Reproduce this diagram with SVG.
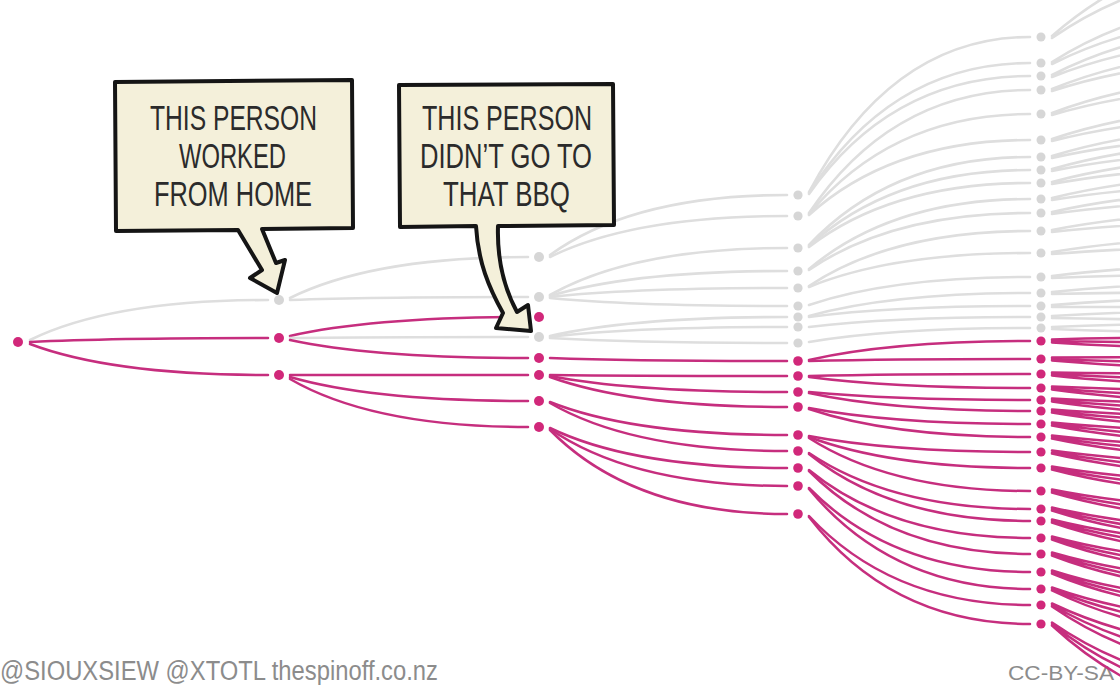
<svg xmlns="http://www.w3.org/2000/svg" width="1120" height="685" viewBox="0 0 1120 685">
<style>
.g{fill:none;stroke:#dedede;stroke-width:2.6;stroke-linecap:round}
.p{fill:none;stroke:#c62e7e;stroke-width:2.5;stroke-linecap:round}
.ng{fill:#d6d6d6}
.np{fill:#d1287a}
.box{fill:#f4f0da;stroke:#151515;stroke-width:4;stroke-linejoin:round}
.bt{font-family:"Liberation Sans",Arial,sans-serif;font-size:35px;fill:#2b2b2b}
.cr{font-family:"Liberation Sans",Arial,sans-serif;fill:#8c8c8c}
</style>
<rect width="1120" height="685" fill="#ffffff"/>
<text class="cr" x="0" y="680" font-size="27" textLength="438" lengthAdjust="spacingAndGlyphs">@SIOUXSIEW @XTOTL thespinoff.co.nz</text>
<text class="cr" x="1008" y="680" font-size="21" fill="#a0a0a0" textLength="106" lengthAdjust="spacingAndGlyphs">CC-BY-SA</text>
<g id="connectors">
<path class="g" d="M30 340Q112 300 268 300"/>
<path class="p" d="M30 342Q112 338 268 338"/>
<path class="p" d="M30 344Q112 375 268 375"/>
<path class="g" d="M290 298Q373 257 528 257"/>
<path class="g" d="M290 300Q373 297 528 297"/>
<path class="p" d="M290 336Q373 317 528 317"/>
<path class="g" d="M290 338Q373 337 528 337"/>
<path class="p" d="M290 340Q373 358 528 358"/>
<path class="p" d="M290 375L528 375"/>
<path class="p" d="M290 377Q373 401 528 401"/>
<path class="p" d="M290 379Q373 427 528 427"/>
<path class="g" d="M550 255Q633 195 787 195"/>
<path class="g" d="M550 257Q633 216 787 216"/>
<path class="g" d="M550 295Q633 248 787 248"/>
<path class="g" d="M550 296Q633 271 787 271"/>
<path class="g" d="M550 297Q633 288 787 288"/>
<path class="g" d="M550 298Q633 306 787 306"/>
<path class="g" d="M550 336Q633 317 787 317"/>
<path class="g" d="M550 337Q633 327 787 327"/>
<path class="g" d="M550 338Q633 343 787 343"/>
<path class="p" d="M550 358Q633 361 787 361"/>
<path class="p" d="M550 375Q633 376 787 376"/>
<path class="p" d="M550 376Q633 392 787 392"/>
<path class="p" d="M550 377Q633 407 787 407"/>
<path class="p" d="M550 402Q633 435 787 435"/>
<path class="p" d="M550 403Q633 451 787 451"/>
<path class="p" d="M550 428Q633 468 787 468"/>
<path class="p" d="M550 429Q633 486 787 486"/>
<path class="p" d="M550 430Q633 514 787 514"/>
<path class="g" d="M809 192Q892 37 1030 37"/>
<path class="g" d="M809 193Q892 63 1030 63"/>
<path class="g" d="M809 194Q892 76 1030 76"/>
<path class="g" d="M809 213Q892 90 1030 90"/>
<path class="g" d="M809 214Q892 114 1030 114"/>
<path class="g" d="M809 215Q892 140 1030 140"/>
<path class="g" d="M809 245Q892 157 1030 157"/>
<path class="g" d="M809 246Q892 170 1030 170"/>
<path class="g" d="M809 247Q892 183 1030 183"/>
<path class="g" d="M809 269Q892 199 1030 199"/>
<path class="g" d="M809 270Q892 213 1030 213"/>
<path class="g" d="M809 286Q892 231 1030 231"/>
<path class="g" d="M809 287Q892 253 1030 253"/>
<path class="g" d="M809 305Q892 277 1030 277"/>
<path class="g" d="M809 316Q892 293 1030 293"/>
<path class="g" d="M809 317Q892 306 1030 306"/>
<path class="g" d="M809 327Q892 317 1030 317"/>
<path class="g" d="M809 342Q892 328 1030 328"/>
<path class="p" d="M809 360Q892 341 1030 341"/>
<path class="p" d="M809 361Q892 359 1030 359"/>
<path class="p" d="M809 376Q892 374 1030 374"/>
<path class="p" d="M809 377Q892 388 1030 388"/>
<path class="p" d="M809 392Q892 400 1030 400"/>
<path class="p" d="M809 393Q892 411 1030 411"/>
<path class="p" d="M809 408Q892 424 1030 424"/>
<path class="p" d="M809 409Q892 437 1030 437"/>
<path class="p" d="M809 436Q892 452 1030 452"/>
<path class="p" d="M809 437Q892 468 1030 468"/>
<path class="p" d="M809 438Q892 491 1030 491"/>
<path class="p" d="M809 453Q892 509 1030 509"/>
<path class="p" d="M809 454Q892 521 1030 521"/>
<path class="p" d="M809 470Q892 538 1030 538"/>
<path class="p" d="M809 471Q892 554 1030 554"/>
<path class="p" d="M809 488Q892 572 1030 572"/>
<path class="p" d="M809 489Q892 589 1030 589"/>
<path class="p" d="M809 516Q892 605 1030 605"/>
<path class="p" d="M809 517Q892 624 1030 624"/>
<path class="g" d="M1052 36Q1150 -50 1279 -50M1052 38Q1150 -30 1279 -30M1052 62Q1150 0 1279 0M1052 64Q1150 15 1279 15M1052 75Q1150 25 1279 25M1052 77Q1150 38 1279 38M1052 89Q1150 49 1279 49M1052 91Q1150 59 1279 59M1052 113Q1150 76 1279 76M1052 115Q1150 86 1279 86M1052 139Q1150 106 1279 106M1052 141Q1150 116 1279 116M1052 156Q1150 126 1279 126M1052 158Q1150 136 1279 136M1052 169Q1150 141 1279 141M1052 171Q1150 151 1279 151M1052 182Q1150 156 1279 156M1052 184Q1150 166 1279 166M1052 198Q1150 174 1279 174M1052 200Q1150 184 1279 184M1052 212Q1150 190 1279 190M1052 214Q1150 200 1279 200M1052 230Q1150 211 1279 211M1052 232Q1150 221 1279 221M1052 252Q1150 236 1279 236M1052 254Q1150 246 1279 246M1052 276Q1150 264 1279 264M1052 278Q1150 274 1279 274M1052 292Q1150 282 1279 282M1052 294Q1150 292 1279 292M1052 305Q1150 297 1279 297M1052 307Q1150 307 1279 307M1052 316Q1150 310 1279 310M1052 318Q1150 320 1279 320M1052 327Q1150 323 1279 323M1052 329Q1150 333 1279 333"/>
<path class="p" d="M1052 339.5Q1150 337 1279 337M1052 341Q1150 343 1279 343M1052 342.5Q1150 349 1279 349M1052 357.5Q1150 357 1279 357M1052 359Q1150 363 1279 363M1052 360.5Q1150 369 1279 369M1052 372.5Q1150 374 1279 374M1052 374Q1150 380 1279 380M1052 375.5Q1150 386 1279 386M1052 386.5Q1150 391 1279 391M1052 388Q1150 397 1279 397M1052 389.5Q1150 403 1279 403M1052 398.5Q1150 404 1279 404M1052 400Q1150 410 1279 410M1052 401.5Q1150 416 1279 416M1052 409.5Q1150 417 1279 417M1052 411Q1150 423 1279 423M1052 412.5Q1150 429 1279 429M1052 422.5Q1150 432 1279 432M1052 424Q1150 438 1279 438M1052 425.5Q1150 444 1279 444M1052 435.5Q1150 447 1279 447M1052 437Q1150 453 1279 453M1052 438.5Q1150 459 1279 459M1052 450.5Q1150 464 1279 464M1052 452Q1150 470 1279 470M1052 453.5Q1150 476 1279 476M1052 466.5Q1150 483 1279 483M1052 468Q1150 489 1279 489M1052 469.5Q1150 495 1279 495M1052 489.5Q1150 509 1279 509M1052 491Q1150 515 1279 515M1052 492.5Q1150 521 1279 521M1052 507.5Q1150 530 1279 530M1052 509Q1150 536 1279 536M1052 510.5Q1150 542 1279 542M1052 519.5Q1150 544 1279 544M1052 521Q1150 550 1279 550M1052 522.5Q1150 556 1279 556M1052 536.5Q1150 563 1279 563M1052 538Q1150 569 1279 569M1052 539.5Q1150 575 1279 575M1052 552.5Q1150 581 1279 581M1052 554Q1150 587 1279 587M1052 555.5Q1150 593 1279 593M1052 570.5Q1150 602 1279 602M1052 572Q1150 608 1279 608M1052 573.5Q1150 614 1279 614M1052 587.5Q1150 622 1279 622M1052 589Q1150 630 1279 630M1052 590.5Q1150 638 1279 638M1052 603.5Q1150 650 1279 650M1052 605Q1150 662 1279 662M1052 606.5Q1150 674 1279 674M1052 622.5Q1150 690 1279 690M1052 624Q1150 702 1279 702M1052 625.5Q1150 716 1279 716"/>
</g>
<g id="n0-0"><circle class="np" cx="18" cy="342" r="5"/></g>
<g id="n1-0"><circle class="ng" cx="279" cy="300" r="5"/></g>
<g id="n1-1"><circle class="np" cx="279" cy="338" r="5"/></g>
<g id="n1-2"><circle class="np" cx="279" cy="375" r="5"/></g>
<g id="n2-0"><circle class="ng" cx="539" cy="257" r="5"/></g>
<g id="n2-1"><circle class="ng" cx="539" cy="297" r="5"/></g>
<g id="n2-2"><circle class="np" cx="539" cy="317" r="5"/></g>
<g id="n2-3"><circle class="ng" cx="539" cy="337" r="5"/></g>
<g id="n2-4"><circle class="np" cx="539" cy="358" r="5"/></g>
<g id="n2-5"><circle class="np" cx="539" cy="375" r="5"/></g>
<g id="n2-6"><circle class="np" cx="539" cy="401" r="5"/></g>
<g id="n2-7"><circle class="np" cx="539" cy="427" r="5"/></g>
<g id="n3-0"><circle class="ng" cx="798" cy="195" r="4.6"/></g>
<g id="n3-1"><circle class="ng" cx="798" cy="216" r="4.6"/></g>
<g id="n3-2"><circle class="ng" cx="798" cy="248" r="4.6"/></g>
<g id="n3-3"><circle class="ng" cx="798" cy="271" r="4.6"/></g>
<g id="n3-4"><circle class="ng" cx="798" cy="288" r="4.6"/></g>
<g id="n3-5"><circle class="ng" cx="798" cy="306" r="4.6"/></g>
<g id="n3-6"><circle class="ng" cx="798" cy="317" r="4.6"/></g>
<g id="n3-7"><circle class="ng" cx="798" cy="327" r="4.6"/></g>
<g id="n3-8"><circle class="ng" cx="798" cy="343" r="4.6"/></g>
<g id="n3-9"><circle class="np" cx="798" cy="361" r="4.8"/></g>
<g id="n3-10"><circle class="np" cx="798" cy="376" r="4.8"/></g>
<g id="n3-11"><circle class="np" cx="798" cy="392" r="4.8"/></g>
<g id="n3-12"><circle class="np" cx="798" cy="407" r="4.8"/></g>
<g id="n3-13"><circle class="np" cx="798" cy="435" r="4.8"/></g>
<g id="n3-14"><circle class="np" cx="798" cy="451" r="4.8"/></g>
<g id="n3-15"><circle class="np" cx="798" cy="468" r="4.8"/></g>
<g id="n3-16"><circle class="np" cx="798" cy="486" r="4.8"/></g>
<g id="n3-17"><circle class="np" cx="798" cy="514" r="4.8"/></g>
<g id="n4-0"><circle class="ng" cx="1041" cy="37" r="4.5"/></g>
<g id="n4-1"><circle class="ng" cx="1041" cy="63" r="4.5"/></g>
<g id="n4-2"><circle class="ng" cx="1041" cy="76" r="4.5"/></g>
<g id="n4-3"><circle class="ng" cx="1041" cy="90" r="4.5"/></g>
<g id="n4-4"><circle class="ng" cx="1041" cy="114" r="4.5"/></g>
<g id="n4-5"><circle class="ng" cx="1041" cy="140" r="4.5"/></g>
<g id="n4-6"><circle class="ng" cx="1041" cy="157" r="4.5"/></g>
<g id="n4-7"><circle class="ng" cx="1041" cy="170" r="4.5"/></g>
<g id="n4-8"><circle class="ng" cx="1041" cy="183" r="4.5"/></g>
<g id="n4-9"><circle class="ng" cx="1041" cy="199" r="4.5"/></g>
<g id="n4-10"><circle class="ng" cx="1041" cy="213" r="4.5"/></g>
<g id="n4-11"><circle class="ng" cx="1041" cy="231" r="4.5"/></g>
<g id="n4-12"><circle class="ng" cx="1041" cy="253" r="4.5"/></g>
<g id="n4-13"><circle class="ng" cx="1041" cy="277" r="4.5"/></g>
<g id="n4-14"><circle class="ng" cx="1041" cy="293" r="4.5"/></g>
<g id="n4-15"><circle class="ng" cx="1041" cy="306" r="4.5"/></g>
<g id="n4-16"><circle class="ng" cx="1041" cy="317" r="4.5"/></g>
<g id="n4-17"><circle class="ng" cx="1041" cy="328" r="4.5"/></g>
<g id="n4-18"><circle class="np" cx="1041" cy="341" r="4.6"/></g>
<g id="n4-19"><circle class="np" cx="1041" cy="359" r="4.6"/></g>
<g id="n4-20"><circle class="np" cx="1041" cy="374" r="4.6"/></g>
<g id="n4-21"><circle class="np" cx="1041" cy="388" r="4.6"/></g>
<g id="n4-22"><circle class="np" cx="1041" cy="400" r="4.6"/></g>
<g id="n4-23"><circle class="np" cx="1041" cy="411" r="4.6"/></g>
<g id="n4-24"><circle class="np" cx="1041" cy="424" r="4.6"/></g>
<g id="n4-25"><circle class="np" cx="1041" cy="437" r="4.6"/></g>
<g id="n4-26"><circle class="np" cx="1041" cy="452" r="4.6"/></g>
<g id="n4-27"><circle class="np" cx="1041" cy="468" r="4.6"/></g>
<g id="n4-28"><circle class="np" cx="1041" cy="491" r="4.6"/></g>
<g id="n4-29"><circle class="np" cx="1041" cy="509" r="4.6"/></g>
<g id="n4-30"><circle class="np" cx="1041" cy="521" r="4.6"/></g>
<g id="n4-31"><circle class="np" cx="1041" cy="538" r="4.6"/></g>
<g id="n4-32"><circle class="np" cx="1041" cy="554" r="4.6"/></g>
<g id="n4-33"><circle class="np" cx="1041" cy="572" r="4.6"/></g>
<g id="n4-34"><circle class="np" cx="1041" cy="589" r="4.6"/></g>
<g id="n4-35"><circle class="np" cx="1041" cy="605" r="4.6"/></g>
<g id="n4-36"><circle class="np" cx="1041" cy="624" r="4.6"/></g>
<g id="callout-home">
<path class="box" d="M115 82L352 80L353 228L262 229L276 263L285 260L277 293L250 278L262 270L238 230L116 231Z"/>
<text class="bt" x="150" y="130" textLength="167" lengthAdjust="spacingAndGlyphs">THIS PERSON</text>
<text class="bt" x="179" y="168" textLength="107" lengthAdjust="spacingAndGlyphs">WORKED</text>
<text class="bt" x="154" y="206" textLength="158" lengthAdjust="spacingAndGlyphs">FROM HOME</text>
</g>
<g id="callout-bbq">
<path class="box" d="M399 85L613 84L614 225L498 226C497 258 503 286 517 312L528 305L531 331L496 328L503 313C489 288 478 262 476 226L400 227Z"/>
<text class="bt" x="422" y="130" textLength="170" lengthAdjust="spacingAndGlyphs">THIS PERSON</text>
<text class="bt" x="420" y="168" textLength="172" lengthAdjust="spacingAndGlyphs">DIDN’T GO TO</text>
<text class="bt" x="443" y="206" textLength="127" lengthAdjust="spacingAndGlyphs">THAT BBQ</text>
</g>
</svg>
